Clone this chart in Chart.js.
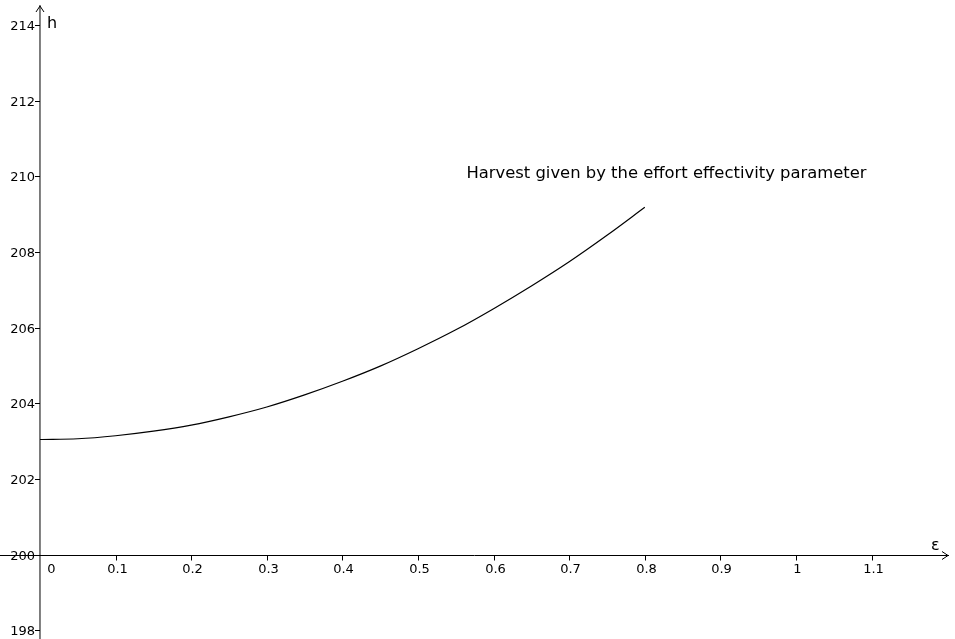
<!DOCTYPE html>
<html>
<head>
<meta charset="utf-8">
<script src="https://cdn.jsdelivr.net/npm/chart.js@4"></script>
<style>
  html, body { margin: 0; padding: 0; background: #fff; }
  canvas { display: block; }
</style>
</head>
<body>
<canvas id="chart" width="955" height="639"></canvas>
<script>
// data
const epsilon = [0, 0.05, 0.1, 0.15, 0.2, 0.25, 0.3, 0.35, 0.4, 0.45, 0.5, 0.55, 0.6, 0.65, 0.7, 0.75, 0.8];
const harvest = [203.04, 203.06, 203.14, 203.26, 203.42, 203.64, 203.90, 204.22, 204.58, 204.98, 205.44, 205.94, 206.50, 207.10, 207.74, 208.44, 209.18];

const xTicks = [0, 0.1, 0.2, 0.3, 0.4, 0.5, 0.6, 0.7, 0.8, 0.9, 1, 1.1];
const xTickLabels = ['0', '0.1', '0.2', '0.3', '0.4', '0.5', '0.6', '0.7', '0.8', '0.9', '1', '1.1'];
const yTicks = [198, 200, 202, 204, 206, 208, 210, 212, 214];
const yTickLabels = ['198', '200', '202', '204', '206', '208', '210', '212', '214'];

const FONT = '"DejaVu Sans", sans-serif';
const curveLabel = 'Harvest given by the effort effectivity parameter';

// GeoGebra-like axes drawn through the chart's own scales
const axesPlugin = {
  id: 'axes',
  beforeDatasetsDraw(chart) {
    const c = chart.ctx;
    const xs = chart.scales.x, ys = chart.scales.y;
    const { left, right, top, bottom } = chart.chartArea;
    const x0 = xs.getPixelForValue(0);
    const y0 = Math.round(ys.getPixelForValue(200)) + 0.5;

    c.save();
    c.strokeStyle = '#000';
    c.lineWidth = 1;

    // y axis
    c.beginPath();
    c.moveTo(x0, bottom);
    c.lineTo(x0, top + 5);
    c.stroke();
    c.beginPath();
    c.moveTo(x0 - 4, top + 12);
    c.lineTo(x0, top + 6);
    c.lineTo(x0 + 4, top + 12);
    c.stroke();

    // x axis
    c.beginPath();
    c.moveTo(left, y0);
    c.lineTo(right - 6, y0);
    c.stroke();
    c.beginPath();
    c.moveTo(right - 13, y0 - 4);
    c.lineTo(right - 7, y0);
    c.lineTo(right - 13, y0 + 4);
    c.stroke();

    c.fillStyle = '#000';
    c.font = '13px ' + FONT;

    // x ticks
    c.textAlign = 'center';
    c.textBaseline = 'middle';
    xTicks.forEach((v, i) => {
      const px = Math.round(xs.getPixelForValue(v)) + 0.5;
      if (v !== 0) {
        c.beginPath();
        c.moveTo(px, y0);
        c.lineTo(px, y0 + 5);
        c.stroke();
      }
      const lx = v === 0 ? px + 11 : px + 1;
      c.fillText(xTickLabels[i], lx, y0 + 14);
    });

    // y ticks
    c.textAlign = 'right';
    yTicks.forEach((v, i) => {
      const py = Math.round(ys.getPixelForValue(v)) + 0.5;
      c.beginPath();
      c.moveTo(x0 - 5, py);
      c.lineTo(x0, py);
      c.stroke();
      c.fillText(yTickLabels[i], x0 - 5, py + 1);
    });

    // axis names
    c.font = '16px ' + FONT;
    c.textAlign = 'left';
    c.textBaseline = 'alphabetic';
    c.fillText('h', x0 + 7, top + 28);
    c.fillText('ε', right - 24, y0 - 6);

    // curve caption
    c.font = '16.4px ' + FONT;
    c.fillText(curveLabel, xs.getPixelForValue(0.564), ys.getPixelForValue(209.96));
    c.restore();
  }
};

new Chart(document.getElementById('chart').getContext('2d'), {
  type: 'line',
  data: {
    datasets: [{
      label: curveLabel,
      data: epsilon.map((e, i) => ({ x: e, y: harvest[i] })),
      borderColor: '#000',
      borderWidth: 1.2,
      pointRadius: 0,
      fill: false,
      cubicInterpolationMode: 'monotone'
    }]
  },
  options: {
    responsive: false,
    animation: false,
    layout: { padding: 0 },
    plugins: {
      legend: { display: false },
      tooltip: { enabled: false }
    },
    scales: {
      x: { type: 'linear', min: -0.0529, max: 1.2103, display: false },
      y: { type: 'linear', min: 197.766, max: 214.66, display: false }
    }
  },
  plugins: [axesPlugin]
});
</script>
</body>
</html>
